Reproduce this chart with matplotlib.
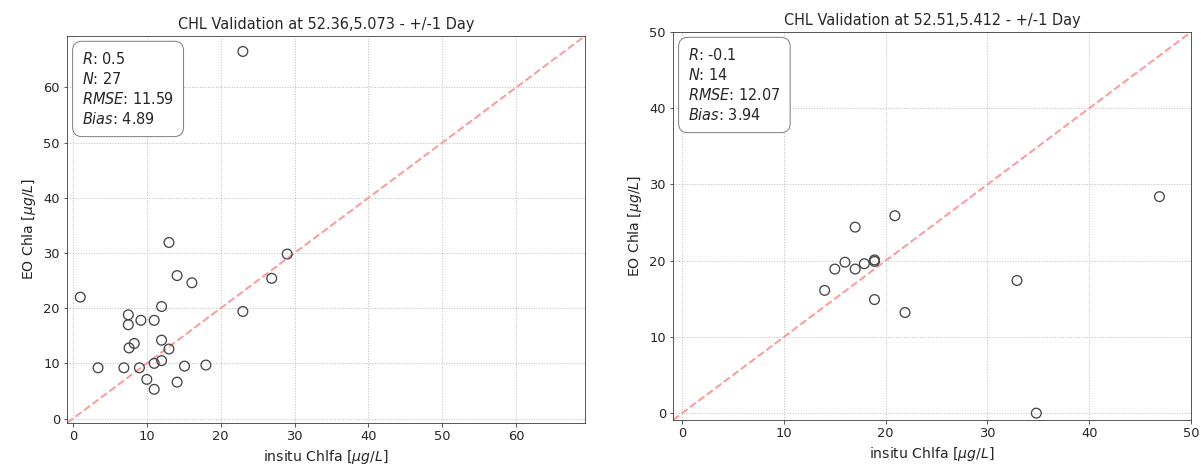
import numpy as np
import matplotlib
matplotlib.use("Agg")
import matplotlib.pyplot as plt

# Station 1: 52.36, 5.073
insitu_1 = [13.0, 29.0, 14.1, 16.1, 26.9, 1.0, 12.0, 23.0, 7.5, 7.5, 9.2, 11.0, 12.0, 8.3,
            7.6, 13.0, 3.4, 6.9, 9.0, 11.0, 12.0, 15.1, 18.0, 10.0, 14.1, 11.0, 23.0]
eo_1 = [31.9, 29.8, 25.9, 24.6, 25.4, 22.0, 20.3, 19.4, 18.8, 17.0, 17.8, 17.8, 14.2, 13.6,
        12.8, 12.6, 9.2, 9.2, 9.2, 10.0, 10.5, 9.5, 9.7, 7.1, 6.6, 5.3, 66.5]
stats_1 = {"R": "0.5", "N": "27", "RMSE": "11.59", "Bias": "4.89"}

# Station 2: 52.51, 5.412
insitu_2 = [20.9, 17.0, 18.9, 18.9, 16.0, 17.9, 15.0, 17.0, 14.0, 18.9, 21.9, 32.9, 34.8, 46.9]
eo_2 = [25.9, 24.4, 20.1, 19.9, 19.8, 19.6, 18.9, 18.9, 16.1, 14.9, 13.2, 17.4, 0.0, 28.4]
stats_2 = {"R": "-0.1", "N": "14", "RMSE": "12.07", "Bias": "3.94"}

W, H = 1203, 472
fig = plt.figure(figsize=(W / 72, H / 72), dpi=72)


def panel(rect, x, y, stats, title, lim):
    ax = fig.add_axes([rect[0] / W, 1 - rect[3] / H, (rect[2] - rect[0]) / W, (rect[3] - rect[1]) / H])
    ax.scatter(x, y, s=95, facecolors='none', edgecolors='#444444', linewidths=1.3, zorder=3)
    ax.plot(lim, lim, linestyle='--', color='#ff9a9a', lw=2, zorder=2)
    ax.set_xlim(lim)
    ax.set_ylim(lim)
    ax.grid(True, linestyle=':', color='#bdbdbd', lw=1)
    for s in ax.spines.values():
        s.set_color('#333333')
    ax.tick_params(labelsize=13, color='#333333', labelcolor='#262626')
    ax.set_title(title, fontsize=14.5, pad=7, color='#262626')
    ax.set_xlabel(r'insitu Chlfa [$\mu g/L$]', fontsize=14, color='#262626', labelpad=5)
    ax.set_ylabel(r'EO Chla [$\mu g/L$]', fontsize=14, color='#262626', labelpad=5)
    txt = '\n'.join(r'$%s$: %s' % (k, v) for k, v in stats.items())
    ax.text(0.029, 0.962, txt, transform=ax.transAxes, fontsize=14.5, va='top', ha='left',
            color='#262626', linespacing=1.32,
            bbox=dict(boxstyle='round,pad=0.65', facecolor='white', edgecolor='#808080'))
    return ax


ax1 = panel((67, 36, 585, 423), insitu_1, eo_1, stats_1,
            'CHL Validation at 52.36,5.073 - +/-1 Day', (-0.8, 69.3))
ax1.set_xticks(np.arange(0, 70, 10))
ax1.set_yticks(np.arange(0, 70, 10))

ax2 = panel((673, 32, 1191, 420), insitu_2, eo_2, stats_2,
            'CHL Validation at 52.51,5.412 - +/-1 Day', (-0.9, 50))
ax2.set_xticks(np.arange(0, 60, 10))
ax2.set_yticks(np.arange(0, 60, 10))

fig.savefig('out.png', dpi=72)
